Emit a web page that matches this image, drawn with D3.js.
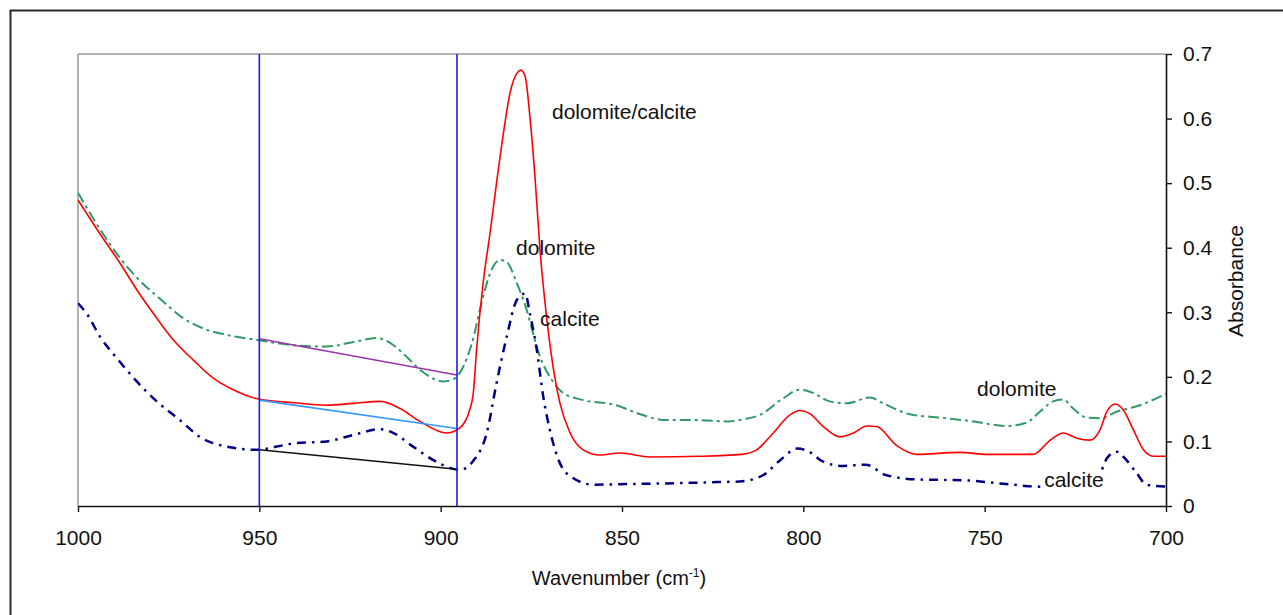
<!DOCTYPE html>
<html>
<head>
<meta charset="utf-8">
<script src="https://cdn.jsdelivr.net/npm/d3@7"></script>
<style>
  html, body { margin: 0; padding: 0; background: #fff; }
  svg { display: block; }
  text { font-family: "Liberation Sans", Arial, sans-serif; fill: #111; }
</style>
</head>
<body>
<svg id="chart" width="1283" height="615"></svg>
<script>
// ---------- DATA ----------
const xTicks = [1000, 950, 900, 850, 800, 750, 700];
const yTicks = [0, 0.1, 0.2, 0.3, 0.4, 0.5, 0.6, 0.7];

// dolomite (green dashed)
const dolomiteWn = [1000, 995, 988, 984, 977, 971, 965.5, 959, 950.5, 940.6, 931.4, 924, 917.6, 913, 909.4, 905.7, 899.3, 897, 894.2, 891.5, 888.3, 886.4, 883.6, 881.8, 879, 876.3, 874.5, 872.6, 869.9, 866.2, 860.7, 851.5, 846, 837.7, 828.5, 821.1, 816.6, 812, 805.5, 801.1, 798.2, 792.7, 788.1, 781.6, 778, 770.6, 762.3, 753.1, 744, 738.5, 734.8, 731.1, 728.4, 725.6, 721.9, 718.2, 713.6, 707.2, 700];
const dolomiteAbs = [0.485, 0.438, 0.381, 0.355, 0.319, 0.291, 0.275, 0.265, 0.257, 0.249, 0.247, 0.254, 0.260, 0.249, 0.231, 0.211, 0.193, 0.195, 0.211, 0.250, 0.324, 0.360, 0.381, 0.378, 0.345, 0.304, 0.267, 0.231, 0.200, 0.175, 0.164, 0.156, 0.144, 0.133, 0.133, 0.131, 0.134, 0.141, 0.167, 0.180, 0.177, 0.162, 0.159, 0.168, 0.159, 0.142, 0.137, 0.131, 0.124, 0.129, 0.146, 0.162, 0.165, 0.151, 0.137, 0.136, 0.146, 0.156, 0.174];

// dolomite/calcite mixture (red solid)
const mixWn = [1000, 994, 988.4, 983.8, 979.2, 973.7, 968.2, 962.7, 957.2, 950.5, 940.6, 931.4, 924.1, 916.7, 911.2, 905.7, 898.4, 894.7, 892, 891, 890.1, 888.3, 886.4, 884.6, 882.7, 880.9, 879, 877.9, 876.7, 875.4, 874, 872.6, 870.8, 869, 867.1, 864.3, 860.7, 856.1, 850.6, 842.3, 828.5, 817, 812.9, 808.3, 803.7, 801, 798.2, 794.5, 789.9, 786.2, 782.5, 779.8, 774.3, 768.8, 756.8, 749.4, 736.6, 731.9, 728.3, 724.6, 720.9, 718.2, 716.3, 714, 711.8, 709, 706.2, 703.5, 700];
const mixAbs = [0.474, 0.422, 0.376, 0.335, 0.298, 0.257, 0.226, 0.198, 0.180, 0.166, 0.160, 0.156, 0.159, 0.162, 0.151, 0.131, 0.113, 0.121, 0.149, 0.175, 0.242, 0.345, 0.422, 0.500, 0.577, 0.639, 0.670, 0.675, 0.665, 0.603, 0.510, 0.396, 0.293, 0.216, 0.159, 0.113, 0.087, 0.079, 0.082, 0.076, 0.077, 0.080, 0.087, 0.113, 0.141, 0.148, 0.143, 0.123, 0.107, 0.113, 0.124, 0.123, 0.094, 0.080, 0.083, 0.080, 0.080, 0.102, 0.113, 0.105, 0.102, 0.118, 0.146, 0.158, 0.149, 0.118, 0.087, 0.077, 0.077];

// calcite (navy dash-dot)
const calciteWn = [1000, 997.6, 993.9, 989.3, 983.8, 978.3, 971.9, 966.4, 959, 950.5, 945.2, 940.6, 931.4, 924.1, 916.7, 913, 907.6, 902, 898.4, 894.7, 891, 887.3, 884.6, 881.8, 879, 876.7, 875.4, 873.5, 871.7, 869.9, 867.1, 863.4, 857.9, 848.7, 837.7, 823.9, 817.5, 811, 806.4, 801.6, 798.4, 794.7, 789.2, 782.8, 777.3, 768.1, 756.2, 744, 734.8, 725.6, 718.2, 716.3, 713.6, 710.9, 708.1, 705.4, 700];
const calciteAbs = [0.314, 0.298, 0.262, 0.229, 0.193, 0.162, 0.133, 0.107, 0.092, 0.087, 0.092, 0.097, 0.100, 0.110, 0.119, 0.113, 0.092, 0.071, 0.061, 0.056, 0.070, 0.113, 0.190, 0.262, 0.319, 0.329, 0.298, 0.242, 0.169, 0.118, 0.066, 0.043, 0.033, 0.034, 0.035, 0.037, 0.038, 0.048, 0.071, 0.089, 0.084, 0.069, 0.062, 0.064, 0.048, 0.041, 0.040, 0.034, 0.030, 0.030, 0.051, 0.074, 0.084, 0.071, 0.051, 0.033, 0.030];

// integration limits and baselines
const limitWn = [950, 895.5];
const baseDolomite = [0.259, 0.203];
const baseMix = [0.164, 0.120];
const baseCalcite = [0.087, 0.057];

// labels: [text, wavenumber, absorbance]
const labelText = ["dolomite/calcite", "dolomite", "calcite", "dolomite", "calcite"];
const labelWn = [869.3, 879.2, 872.6, 752.1, 733.6];
const labelAbs = [0.599, 0.389, 0.278, 0.170, 0.030];

// ---------- CHART ----------
const svg = d3.select("#chart");
const L = 78, R = 1166, T = 54, B = 506;
const x = d3.scaleLinear().domain([1000, 700]).range([L, R]);
const y = d3.scaleLinear().domain([0, 0.7]).range([B, T]);

svg.append("rect").attr("width", 1283).attr("height", 615).attr("fill", "#fff");
// outer frame
svg.append("rect").attr("x", 10.5).attr("y", 10.5).attr("width", 1320).attr("height", 700)
  .attr("fill", "none").attr("stroke", "#2a2a2a").attr("stroke-width", 2);

// plot area border (top/left gray)
svg.append("line").attr("x1", L).attr("x2", R).attr("y1", T).attr("y2", T).attr("stroke", "#9a9a9a").attr("stroke-width", 1.5);
svg.append("line").attr("x1", L).attr("x2", L).attr("y1", T).attr("y2", B).attr("stroke", "#9a9a9a").attr("stroke-width", 1.5);

svg.append("defs").append("clipPath").attr("id", "clip")
  .append("rect").attr("x", L).attr("y", T - 2).attr("width", R - L).attr("height", B - T + 2);

const g = svg.append("g").attr("clip-path", "url(#clip)");

function series(wn, ab, color, width, dash) {
  const pts = wn.map((w, i) => [w, ab[i]]);
  const line = d3.line().x(d => x(d[0])).y(d => y(d[1])).curve(d3.curveMonotoneX);
  const p = g.append("path").datum(pts).attr("d", line)
    .attr("fill", "none").attr("stroke", color).attr("stroke-width", width)
    .attr("stroke-linejoin", "round");
  if (dash) p.attr("stroke-dasharray", dash);
}

series(dolomiteWn, dolomiteAbs, "#339966", 2, "11,4,3,4");
series(calciteWn, calciteAbs, "#000080", 2.5, "9,6,2.5,6");
series(mixWn, mixAbs, "#ff0000", 1.6, null);

// baselines
function seg(vals, color) {
  g.append("line").attr("x1", x(limitWn[0])).attr("x2", x(limitWn[1]))
    .attr("y1", y(vals[0])).attr("y2", y(vals[1]))
    .attr("stroke", color).attr("stroke-width", 1.6);
}
seg(baseDolomite, "#9933aa");
seg(baseMix, "#3399ff");
seg(baseCalcite, "#111111");

// vertical limit lines
limitWn.forEach(w => {
  g.append("line").attr("x1", x(w)).attr("x2", x(w)).attr("y1", T).attr("y2", B)
    .attr("stroke", "#1a1aff").attr("stroke-width", 1.6);
});

// axes
const xAxis = d3.axisBottom(x).tickValues(xTicks).tickFormat(d3.format("d"))
  .tickSize(6).tickSizeOuter(0).tickPadding(18);
const xg = svg.append("g").attr("transform", `translate(0,${B})`).call(xAxis);
xg.select(".domain").attr("stroke", "#111").attr("stroke-width", 1.6);
xg.selectAll(".tick line").attr("stroke", "#111").attr("stroke-width", 1.4);
xg.selectAll("text").attr("font-size", 21).attr("font-family", "Liberation Sans, Arial, sans-serif").attr("fill", "#111");

const yAxis = d3.axisRight(y).tickValues(yTicks)
  .tickFormat(d => d === 0 ? "0" : d3.format(".1f")(d))
  .tickSize(6).tickSizeOuter(0).tickPadding(11);
const yg = svg.append("g").attr("transform", `translate(${R},0)`).call(yAxis);
yg.select(".domain").attr("stroke", "#111").attr("stroke-width", 1.6);
yg.selectAll(".tick line").attr("stroke", "#111").attr("stroke-width", 1.4);
yg.selectAll("text").attr("font-size", 21).attr("font-family", "Liberation Sans, Arial, sans-serif").attr("fill", "#111");

// axis titles
const xt = svg.append("text").attr("x", 619).attr("y", 585).attr("text-anchor", "middle").attr("font-size", 20);
xt.append("tspan").text("Wavenumber (cm");
xt.append("tspan").attr("font-size", 12).attr("dy", -8).text("-1");
xt.append("tspan").attr("dy", 8).text(")");

svg.append("text").attr("transform", "translate(1243,281) rotate(-90)")
  .attr("text-anchor", "middle").attr("font-size", 21).text("Absorbance");

// labels
labelText.forEach((t, i) => {
  const tx = svg.append("text").attr("x", x(labelWn[i])).attr("y", y(labelAbs[i]))
    .attr("font-size", 21).text(t);
  if (i === 4) {
    const bb = tx.node().getBBox();
    svg.insert("rect", function(){ return tx.node(); })
      .attr("x", bb.x - 1).attr("y", bb.y + 4).attr("width", bb.width + 2).attr("height", bb.height - 4)
      .attr("fill", "#fff");
  }
});
</script>
</body>
</html>
